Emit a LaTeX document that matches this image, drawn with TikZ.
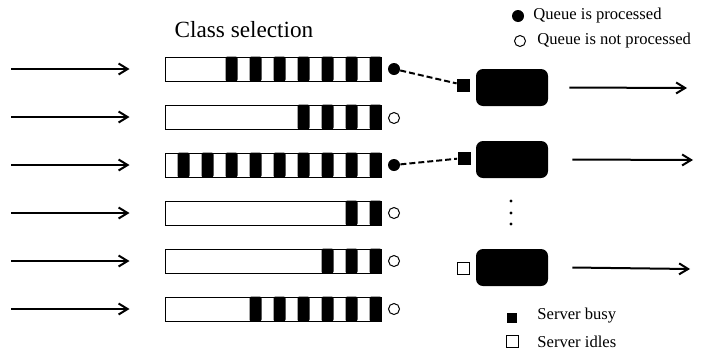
\documentclass[tikz,border=0pt]{standalone}
\usepackage{fontspec}
\setmainfont{Liberation Serif}
\usetikzlibrary{arrows.meta}
\begin{document}
\begin{tikzpicture}[x=0.5pt,y=-0.5pt]

% définition des styles
\tikzstyle{fleche}=[-{Straight Barb[length=4.5pt,width=5.5pt]},line width=1pt]
\tikzstyle{file}=[draw,line width=0.5pt,minimum width=108pt,minimum height=12pt,inner sep=0pt]
\tikzstyle{barre}=[fill=black,rounded corners=1pt]
\tikzstyle{plein}=[circle,fill=black,minimum size=6pt,inner sep=0pt]
\tikzstyle{vide}=[circle,draw,line width=0.5pt,minimum size=5.5pt,inner sep=0pt]
\tikzstyle{serveur}=[fill=black,rounded corners=3.5pt,minimum width=36pt,minimum height=18.5pt]
\tikzstyle{occupe}=[fill=black,minimum size=6.5pt,inner sep=0pt]
\tikzstyle{libre}=[draw,line width=0.5pt,minimum size=6pt,inner sep=0pt]
\tikzstyle{pointille}=[dash pattern=on 3pt off 1.5pt,line width=1pt]
\tikzstyle{point}=[circle,fill=black,minimum size=1.6pt,inner sep=0pt]
\tikzstyle{legende}=[anchor=west,font=\fontsize{8.3}{10}\selectfont,inner sep=0pt]

\useasboundingbox (0,0) rectangle (704,349);

% le titre
\node[font=\fontsize{11.6}{14}\selectfont] (titre) at (244,30) {Class selection};

% les files
\node[file] (f1) at (273,69) {};
\node[file] (f2) at (273,117) {};
\node[file] (f3) at (273,165) {};
\node[file] (f4) at (273,213) {};
\node[file] (f5) at (273,261) {};
\node[file] (f6) at (273,309) {};

% les clients en attente
\foreach \n/\k in {1/7,2/4,3/9,4/2,5/3,6/6}
  \foreach \i in {1,...,\k}
    \fill[barre] ([xshift={(6-12*\i)*1pt}]f\n.north east) rectangle ([xshift={(12-12*\i)*1pt}]f\n.south east);

% les arrivées
\coordinate (a1) at (11,69);
\coordinate (a2) at (11,117);
\coordinate (a3) at (11,165);
\coordinate (a4) at (11,213);
\coordinate (a5) at (11,261);
\coordinate (a6) at (11,309);
\foreach \n in {1,...,6}
  \draw[fleche] (a\n) -- ([xshift=-17.5pt]f\n.west);

% les états des files
\node[plein] (c1) at (394,69) {};
\node[vide] (c2) at (394,118) {};
\node[plein] (c3) at (394,165) {};
\node[vide] (c4) at (394,213) {};
\node[vide] (c5) at (394,261) {};
\node[vide] (c6) at (394,309) {};

% les serveurs
\node[serveur] (s1) at (512,87.5) {};
\node[serveur] (s2) at (512,159.5) {};
\node[serveur] (s3) at (512,267.5) {};
\node[occupe] (e1) at (463.5,85) {};
\node[occupe] (e2) at (464,158) {};
\node[libre] (e3) at (463,268) {};
\node[point] (d1) at (511,201) {};
\node[point] (d2) at (511,213) {};
\node[point] (d3) at (511,224) {};

% les liens
\draw[pointille] (c1) -- (e1);
\draw[pointille] (c3) -- (e2);

% les départs
\coordinate (b1) at (687,88);
\coordinate (b2) at (693,160);
\coordinate (b3) at (690,269);
\draw[fleche] ([xshift=10.5pt]s1.east) -- (b1);
\draw[fleche] ([xshift=12pt]s2.east) -- (b2);
\draw[fleche] ([xshift=12pt]s3.east) -- (b3);

% la légende
\node[plein] (l1) at (518,16) {};
\node[legende] (t1) at (533,16) {Queue is processed};
\node[vide] (l2) at (520,41) {};
\node[legende] (t2) at (537,41) {Queue is not processed};
\node[occupe,minimum size=5pt] (l3) at (512,318) {};
\node[legende] (t3) at (537,316) {Server busy};
\node[libre] (l4) at (512,341) {};
\node[legende] (t4) at (537,342) {Server idles};

\end{tikzpicture}
\end{document}
